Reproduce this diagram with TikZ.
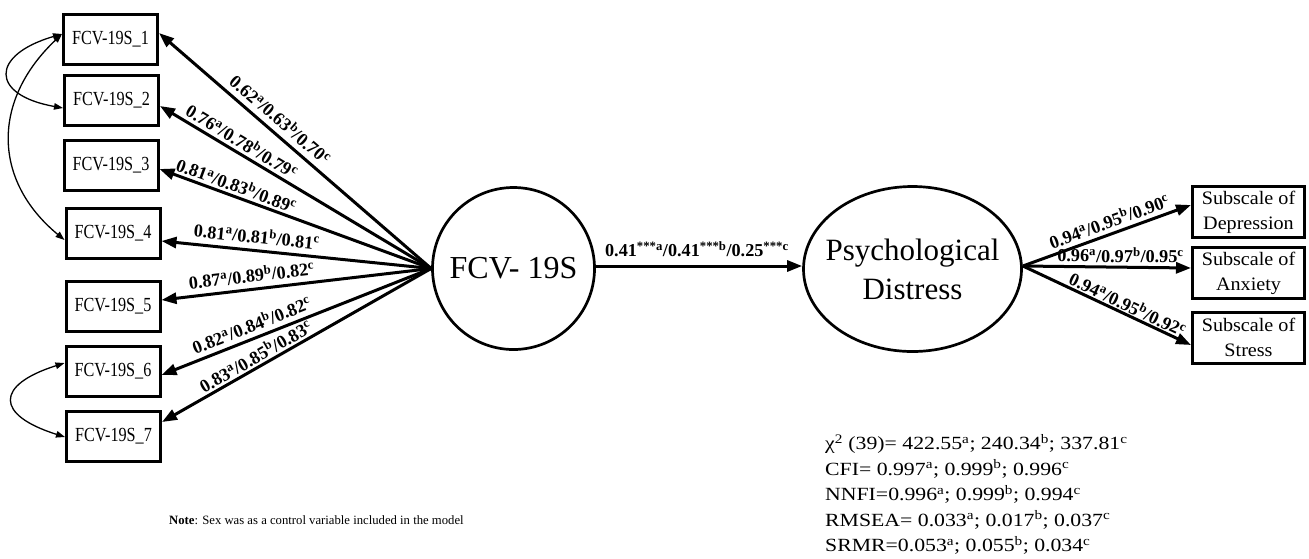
\documentclass[tikz,border=0pt]{standalone}
\usepackage{fontspec}
\setmainfont{Liberation Serif}
\newfontfamily\boxfont[FakeStretch=0.81]{Liberation Serif}
\newfontfamily\statfont[FakeStretch=1.17]{Liberation Serif}
\newfontfamily\subfont[FakeStretch=1.06]{Liberation Serif}
\usetikzlibrary{arrows.meta,shapes.geometric,calc}
\begin{document}
\begin{tikzpicture}[x=1pt,y=-1pt,
  item/.style={draw, line width=3pt, minimum width=94pt, minimum height=50pt, inner sep=0pt, font=\boxfont\fontsize{20}{24}\selectfont},
  sub/.style={draw, line width=3pt, minimum width=112pt, minimum height=51pt, inner sep=0pt, align=center, font=\subfont\fontsize{19}{25}\selectfont},
  load/.style={line width=3pt, -{Triangle[length=15pt,width=11pt]}},
  cov/.style={line width=1.3pt, {Triangle[length=9pt,width=6.5pt]}-{Triangle[length=9pt,width=6.5pt]}},
  lab/.style={sloped, inner sep=0pt, font=\bfseries\fontsize{18.2}{22}\selectfont},
  stat/.style={anchor=base west, inner sep=0pt, font=\statfont\fontsize{18.6}{25.5}\selectfont},
]
\useasboundingbox (0,0) rectangle (1309,558);

% indicator boxes
\node[item] (b1) at (110.5,39.5) {FCV-19S\_1};
\node[item] (b2) at (111.5,100.5) {FCV-19S\_2};
\node[item] (b3) at (111,165.5) {FCV-19S\_3};
\node[item] (b4) at (113,233.5) {FCV-19S\_4};
\node[item] (b5) at (113,306) {FCV-19S\_5};
\node[item] (b6) at (113,371) {FCV-19S\_6};
\node[item] (b7) at (113.5,436) {FCV-19S\_7};

% latent variables
\node[draw, circle, line width=2.7pt, minimum size=162pt, inner sep=0pt, font=\fontsize{32}{38}\selectfont] (f) at (513.5,268.5) {FCV- 19S};
\node[draw, ellipse, line width=2.7pt, minimum width=218pt, minimum height=165pt, inner sep=0pt] (p) at (912.5,269) {};
\node[align=center, inner sep=0pt, font=\fontsize{31}{39}\selectfont] (pt) at (p.center) {Psychological\\Distress};

% subscales
\node[sub] (d) at (1248.5,212) {Subscale of\\Depression};
\node[sub] (a) at (1248.5,273) {Subscale of\\Anxiety};
\node[sub] (s) at (1248.5,337.5) {Subscale of\\Stress};

% loadings
\draw[load] (f.west) -- node[lab, pos=0.588, above=5.4pt] {0.62\textsuperscript{a}/0.63\textsuperscript{b}/0.70\textsuperscript{c}} ($(b1.east)+(0,-6.5)$);
\draw[load] (f.west) -- node[lab, pos=0.72, above=3.1pt] {0.76\textsuperscript{a}/0.78\textsuperscript{b}/0.79\textsuperscript{c}} ($(b2.east)+(0,5.5)$);
\draw[load] (f.west) -- node[lab, pos=0.731, above=2.5pt] {0.81\textsuperscript{a}/0.83\textsuperscript{b}/0.89\textsuperscript{c}} ($(b3.east)+(0,3.5)$);
\draw[load] (f.west) -- node[lab, pos=0.652, above=5.7pt] {0.81\textsuperscript{a}/0.81\textsuperscript{b}/0.81\textsuperscript{c}} ($(b4.east)+(0,7.5)$);
\draw[load] (f.west) -- node[lab, pos=0.66, above=5.4pt] {0.87\textsuperscript{a}/0.89\textsuperscript{b}/0.82\textsuperscript{c}} ($(b5.east)+(0,-6)$);
\draw[load] (f.west) -- node[lab, pos=0.648, above=4.7pt] {0.82\textsuperscript{a}/0.84\textsuperscript{b}/0.82\textsuperscript{c}} ($(b6.east)+(0,4)$);
\draw[load] (f.west) -- node[lab, pos=0.633, above=2pt] {0.83\textsuperscript{a}/0.85\textsuperscript{b}/0.83\textsuperscript{c}} ($(b7.east)+(0,-14)$);

% structural path
\draw[load] ($(f.east)+(0,-2.5)$) -- node[lab, pos=0.49, above=7.5pt] {0.41\textsuperscript{***a}/0.41\textsuperscript{***b}/0.25\textsuperscript{***c}} ($(p.west)+(0,-3)$);

% second-order loadings
\draw[load] ($(p.east)+(0,-3)$) -- node[lab, pos=0.539, above=4pt] {0.94\textsuperscript{a}/0.95\textsuperscript{b}/0.90\textsuperscript{c}} ($(d.west)+(0,-7)$);
\draw[load] ($(p.east)+(0,-3)$) -- node[lab, pos=0.58, above=3pt] {0.96\textsuperscript{a}/0.97\textsuperscript{b}/0.95\textsuperscript{c}} ($(a.west)+(0,-5)$);
\draw[load] ($(p.east)+(0,-3)$) -- node[lab, pos=0.598, above=1.2pt] {0.94\textsuperscript{a}/0.95\textsuperscript{b}/0.92\textsuperscript{c}} ($(s.west)+(0,7.5)$);

% error covariances
\draw[cov] ($(b1.west)+(0,-5.5)$) .. controls (-10,55) and (-10,95) .. ($(b2.west)+(0,7.5)$);
\draw[cov] ($(b1.west)+(0,-5.5)$) .. controls (-8,100) and (-8,180) .. ($(b4.west)+(0,6.5)$);
\draw[cov] ($(b6.west)+(0,-8)$) .. controls (-5,385) and (-5,415) .. ($(b7.west)+(0,1)$);

% fit statistics
\node[stat] (s1) at (825,449.5) {χ\textsuperscript{2} (39)= 422.55\textsuperscript{a}; 240.34\textsuperscript{b}; 337.81\textsuperscript{c}};
\node[stat] (s2) at (825,475) {CFI= 0.997\textsuperscript{a}; 0.999\textsuperscript{b}; 0.996\textsuperscript{c}};
\node[stat] (s3) at (825,500.5) {NNFI=0.996\textsuperscript{a}; 0.999\textsuperscript{b}; 0.994\textsuperscript{c}};
\node[stat] (s4) at (825,526) {RMSEA= 0.033\textsuperscript{a}; 0.017\textsuperscript{b}; 0.037\textsuperscript{c}};
\node[stat] (s5) at (825,551.5) {SRMR=0.053\textsuperscript{a}; 0.055\textsuperscript{b}; 0.034\textsuperscript{c}};

% note
\node[anchor=base west, inner sep=0pt, font=\fontsize{12.7}{15}\selectfont] (note) at (169,524) {\textbf{Note}: Sex was as a control variable included in the model};
\end{tikzpicture}
\end{document}
